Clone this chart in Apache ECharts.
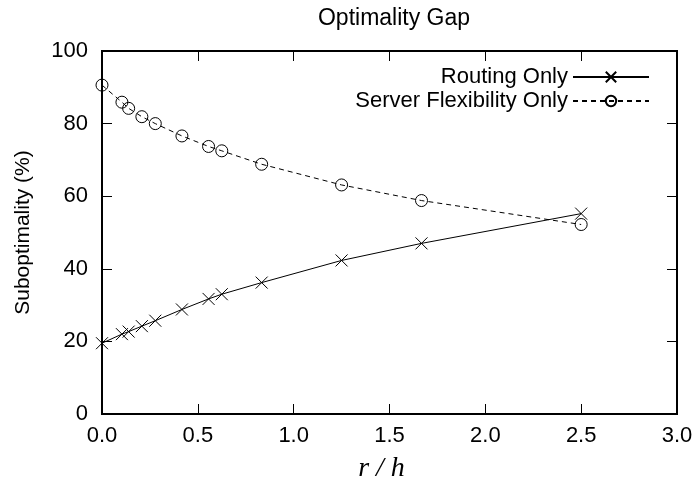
<!DOCTYPE html>
<html><head><meta charset="utf-8">
<script src="https://cdn.jsdelivr.net/npm/echarts@6/dist/echarts.min.js"></script>
<style>html,body{margin:0;padding:0;background:#fff}#c{width:695px;height:486px}</style>
</head><body><div id="c"></div>
<script>
var xValues = [0, 0.104, 0.139, 0.208, 0.278, 0.417, 0.556, 0.625, 0.833, 1.25, 1.667, 2.5];
var routingOnly = [19.5, 22.0, 22.7, 24.2, 25.7, 28.8, 31.7, 33.0, 36.2, 42.3, 47.0, 55.2];
var serverFlexOnly = [90.6, 85.9, 84.2, 81.9, 80.0, 76.6, 73.7, 72.5, 68.8, 63.1, 58.8, 52.2];
var xTicks = [0, 0.5, 1.0, 1.5, 2.0, 2.5, 3.0];
var yTicks = [0, 20, 40, 60, 80, 100];

function pairs(xs, ys){ return xs.map(function(x,i){ return [x, ys[i]]; }); }
var font = 'Liberation Sans, Arial, sans-serif';
var chart = echarts.init(document.getElementById('c'), null, {renderer:'canvas'});
function axisCommon(){
  return {
    axisLine:{show:true, onZero:false, lineStyle:{color:'#000', width:2}},
    axisTick:{show:true, inside:true, length:10, lineStyle:{color:'#000', width:1}},
    splitLine:{show:false}
  };
}
chart.setOption({
  animation:false,
  backgroundColor:'#fff',
  title:{text:'Optimality Gap', left:389, top:2, textAlign:'center',
    textStyle:{fontFamily:font, fontSize:23, fontWeight:'normal', color:'#000'}},
  grid:{left:102, right:18, top:51, bottom:72, outerBoundsMode:'none', show:true, borderColor:'#000', borderWidth:2, backgroundColor:'transparent'},
  legend:{
    right:40, top:61, orient:'vertical', align:'right', itemWidth:76, itemHeight:13, itemGap:2,
    textStyle:{fontFamily:font, fontSize:22, color:'#000'},
    data:['Routing Only','Server Flexibility Only']
  },
  xAxis:[
    Object.assign({type:'value', min:0, max:3, interval:0.5, position:'bottom', gridIndex:0,
      axisLabel:{fontFamily:font, fontSize:22, color:'#000', margin:11,
        formatter:function(v){ return v.toFixed(1); }},
      name:'r / h', nameLocation:'middle', nameGap:41,
      nameTextStyle:{fontFamily:'Liberation Serif, Times New Roman, serif', fontStyle:'italic', fontSize:28, color:'#000', padding:[0,16,0,0]}
    }, axisCommon()),
    Object.assign({type:'value', min:0, max:3, interval:0.5, position:'top', gridIndex:0, axisLabel:{show:false}}, axisCommon())
  ],
  yAxis:[
    Object.assign({type:'value', min:0, max:100, interval:20, position:'left', gridIndex:0,
      axisLabel:{fontFamily:font, fontSize:22, color:'#000', margin:14},
      name:'Suboptimality (%)', nameLocation:'middle', nameGap:68, nameRotate:90,
      nameTextStyle:{fontFamily:font, fontSize:21, color:'#000'}
    }, axisCommon()),
    Object.assign({type:'value', min:0, max:100, interval:20, position:'right', gridIndex:0, axisLabel:{show:false}}, axisCommon())
  ],
  series:[
    {name:'Routing Only', type:'line', data:pairs(xValues, routingOnly),
      symbol:'path://M0,0L10,10M10,0L0,10', symbolSize:12, showSymbol:true,
      lineStyle:{color:'#000', width:1, type:'solid'},
      itemStyle:{color:'none', borderColor:'#000', borderWidth:1}},
    {name:'Server Flexibility Only', type:'line', data:pairs(xValues, serverFlexOnly),
      symbol:'circle', symbolSize:12, showSymbol:true,
      lineStyle:{color:'#000', width:1, type:[5,4]},
      itemStyle:{color:'rgba(0,0,0,0)', borderColor:'#000', borderWidth:1}}
  ]
});
</script></body></html>
